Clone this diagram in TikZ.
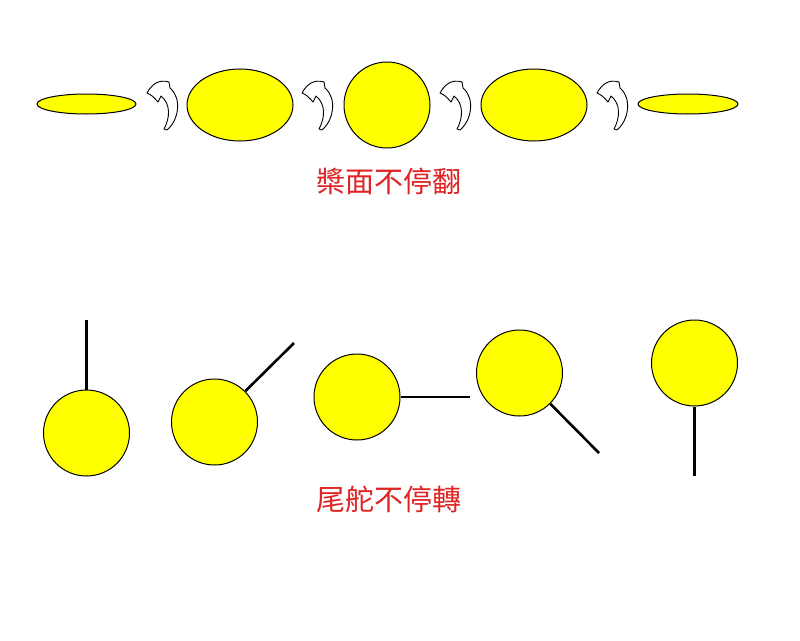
\documentclass[tikz,border=0pt]{standalone}
\usepackage{fontspec}
\newfontfamily\cjk{Noto Sans CJK TC}
\usetikzlibrary{shapes.geometric}
\definecolor{bladeyellow}{RGB}{255,255,0}
\definecolor{captionred}{RGB}{222,36,36}

\begin{document}
\begin{tikzpicture}[x=1pt,y=-1pt,
    blade/.style={ellipse,draw=black,line width=1pt,fill=bladeyellow,inner sep=0pt},
    disc/.style={circle,draw=black,line width=1pt,fill=bladeyellow,inner sep=0pt,minimum size=86pt},
    stick/.style={line width=2.6pt},
    caption/.style={text=captionred,font=\cjk\fontsize{29}{32}\selectfont},
    flipmark/.pic={\draw[line width=0.9pt,fill=white,line join=round]
        (0,13) .. controls (5,4) and (12,-1) .. (22,2) -- (23,8)
        .. controls (35,18) and (32,40) .. (20,50) -- (17,49)
        .. controls (23,38) and (24,24) .. (14,16) -- (11,22)
        .. controls (7,17) and (3,14) .. (0,13) -- cycle;}]
    \useasboundingbox (0,0) rectangle (800,640);
    \path
        % paddle, edge-on to face-on and back
        (86.5,104) node[blade,minimum width=99pt,minimum height=20pt]  (p1) {}
        (240,105)  node[blade,minimum width=106pt,minimum height=72pt] (p2) {}
        (387,105)  node[disc]                                          (p3) {}
        (534,105)  node[blade,minimum width=106pt,minimum height=72pt] (p4) {}
        (688,104)  node[blade,minimum width=100pt,minimum height=20pt] (p5) {};

    \pic (f1) at (147,80) {flipmark};
    \pic (f2) at (302,80) {flipmark};
    \pic (f3) at (440,80) {flipmark};
    \pic (f4) at (597,80) {flipmark};

    \node[caption] (paddle) at (388.5,181.5) {槳面不停翻};

    \path
        % rudder, turning round
        (86.5,433)  node[disc] (r1) {}
        (214.5,422) node[disc] (r2) {}
        (357,397)   node[disc] (r3) {}
        (519.5,373) node[disc] (r4) {}
        (694.5,363) node[disc] (r5) {};

    \coordinate (e1) at (86.5,320);
    \coordinate (e2) at (294,343);
    \coordinate (e3) at (470,397);
    \coordinate (e4) at (599,453);
    \coordinate (e5) at (694.5,476);

    \draw[stick] (r1.north) -- (e1);
    \draw[stick] (r2.45)    -- (e2);
    \draw[stick] (r3.east)  -- (e3);
    \draw[stick] (r4.-45)   -- (e4);
    \draw[stick] (r5.south) -- (e5);

    \node[caption] (rudder) at (388.5,499) {尾舵不停轉};
\end{tikzpicture}
\end{document}
